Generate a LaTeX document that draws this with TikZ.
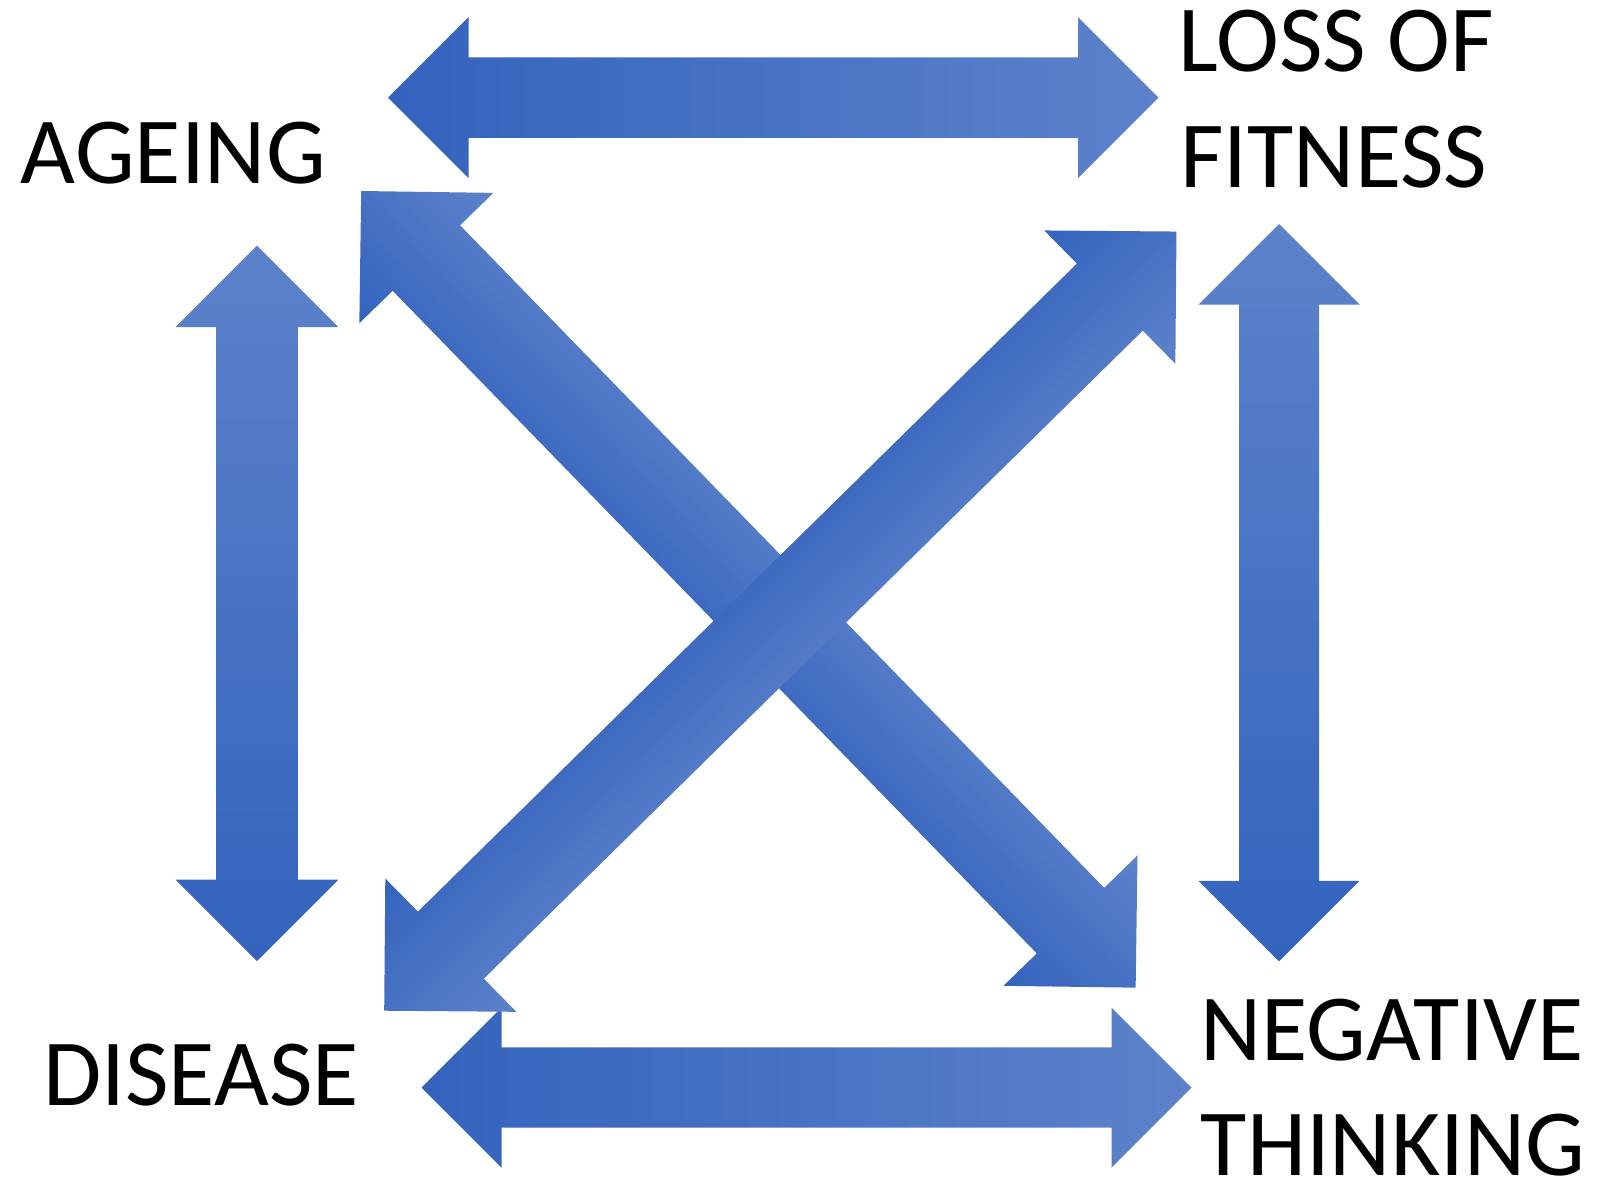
\documentclass[tikz,border=0pt]{standalone}
\usepackage{fontspec}
\setmainfont{Carlito}
\usetikzlibrary{calc}

\definecolor{arrowdark}{HTML}{3363BD}
\definecolor{arrowlight}{HTML}{5D82CA}

% Block double arrow from coordinate #2 to coordinate #3.
% #1: shading keys (in the arrow's own frame, x along the arrow),
% #4: head length = head half-width, #5: shaft half-width (both in px).
\newcommand\blockarrow[5][]{%
  \path let \p1=($(#3)-(#2)$), \n1={atan2(\y1,\x1)}, \n2={veclen(\x1,\y1)} in
    \pgfextra{\xdef\barang{\n1}\xdef\barlen{\n2}};
  \pgfmathsetmacro\barL{2*\barlen}%
  \begin{scope}[transform canvas={shift={(#2)},rotate=\barang}, x=0.5pt, y=0.5pt]
    \shade[#1] (0,0) -- (#4,#4) -- (#4,#5) -- ({\barL-#4},#5) -- ({\barL-#4},#4)
      -- (\barL,0) -- ({\barL-#4},-#4) -- ({\barL-#4},-#5) -- (#4,-#5) -- (#4,-#4) -- cycle;
  \end{scope}}

\tikzset{
  lbl/.style={font=\fontsize{47.35pt}{56pt}\selectfont, inner sep=0pt, anchor=base west, text=black},
  alongshade/.style={left color=arrowdark, right color=arrowlight},
}

\begin{document}
\begin{tikzpicture}[x=0.5pt, y=-0.5pt]
  \useasboundingbox (0,0) rectangle (1597,1180);

  % labels
  \node[lbl] (ageing)   at (20.5,183)  {AGEING};
  \node[lbl] (lossof)   at (1178.5,71.5) {LOSS OF};
  \node[lbl] (fitness)  at (1180,187)  {FITNESS};
  \node[lbl] (disease)  at (43,1105)   {DISEASE};
  \node[lbl] (negative) at (1200,1060.5) {NEGATIVE};
  \node[lbl] (thinking) at (1200.5,1175) {THINKING};

  % arrow end points
  \coordinate (agefit-1) at (388,97.6);
  \coordinate (agefit-2) at (1158.5,97.6);
  \coordinate (disneg-1) at (421.5,1087.5);
  \coordinate (disneg-2) at (1191.5,1087.5);
  \coordinate (agedis-1) at (257,961);
  \coordinate (agedis-2) at (257,245.7);
  \coordinate (fitneg-1) at (1279,961.4);
  \coordinate (fitneg-2) at (1279,224);
  \coordinate (ageneg-1) at (361.2,191);
  \coordinate (ageneg-2) at (1135.7,987.7);
  \coordinate (disfit-1) at (384.2,1010.7);
  \coordinate (disfit-2) at (1176.5,231.5);

  % straight arrows
  \blockarrow[alongshade]{agefit-1}{agefit-2}{80.5}{40.2}
  \blockarrow[alongshade]{disneg-1}{disneg-2}{80}{40.2}
  \blockarrow[alongshade]{agedis-1}{agedis-2}{81.5}{40.8}
  \blockarrow[alongshade]{fitneg-1}{fitneg-2}{80.5}{40}

  % crossing arrows
  \blockarrow[top color=arrowlight, bottom color=arrowdark]{ageneg-1}{ageneg-2}{93.5}{47}
  \blockarrow[top color=arrowdark, bottom color=arrowlight]{disfit-1}{disfit-2}{93.5}{47}
\end{tikzpicture}
\end{document}
